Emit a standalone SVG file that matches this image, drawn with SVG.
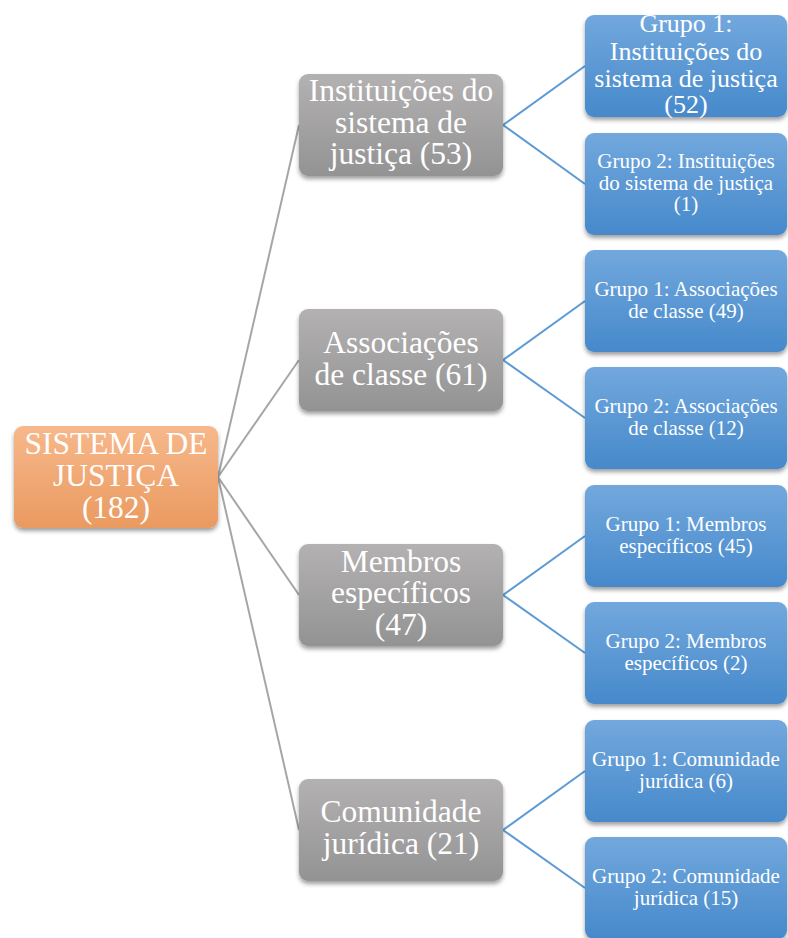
<svg xmlns="http://www.w3.org/2000/svg" width="788" height="938" viewBox="0 0 788 938">
<defs>
<linearGradient id="gOrange" x1="0" y1="0" x2="0" y2="1"><stop offset="0" stop-color="#F7B88B"/><stop offset="1" stop-color="#EA9A60"/></linearGradient>
<linearGradient id="gGray" x1="0" y1="0" x2="0" y2="1"><stop offset="0" stop-color="#B3B1B1"/><stop offset="1" stop-color="#949393"/></linearGradient>
<linearGradient id="gBlue" x1="0" y1="0" x2="0" y2="1"><stop offset="0" stop-color="#72A8DD"/><stop offset="1" stop-color="#4689CB"/></linearGradient>
<filter id="sh" x="-10%" y="-10%" width="125%" height="135%"><feDropShadow dx="0" dy="3" stdDeviation="2.2" flood-color="#000" flood-opacity="0.38"/></filter>
</defs>
<style>
text{font-family:"Liberation Serif","Times New Roman",serif;fill:#fff;text-anchor:middle}
.root rect{fill:url(#gOrange)}
.mid rect{fill:url(#gGray)}
.leaf rect{fill:url(#gBlue)}
rect{filter:url(#sh)}
.big{font-size:31.5px}
.m{font-size:26px}
.s{font-size:21px}
.cg line{stroke:#A6A6A6;stroke-width:2}
.cb line{stroke:#5B9BD5;stroke-width:2}
</style>
<g id="connectors">
<g class="cg">
<line x1="218" y1="477" x2="299" y2="125"/>
<line x1="218" y1="477" x2="299" y2="360"/>
<line x1="218" y1="477" x2="299" y2="595"/>
<line x1="218" y1="477" x2="299" y2="830"/>
</g>
<g class="cb">
<line x1="503" y1="125" x2="585" y2="66"/>
<line x1="503" y1="125" x2="585" y2="184"/>
<line x1="503" y1="360" x2="585" y2="301"/>
<line x1="503" y1="360" x2="585" y2="418"/>
<line x1="503" y1="595" x2="585" y2="536"/>
<line x1="503" y1="595" x2="585" y2="653"/>
<line x1="503" y1="830" x2="585" y2="771"/>
<line x1="503" y1="830" x2="585" y2="888"/>
</g>
</g>
<g id="root" class="root">
<rect x="14" y="426" width="204" height="102" rx="9"/>
<text class="big" x="116" y="454">SISTEMA DE</text>
<text class="big" x="116" y="486">JUSTIÇA</text>
<text class="big" x="116" y="518">(182)</text>
</g>
<g id="n1" class="mid">
<rect x="299" y="74" width="204" height="102" rx="9"/>
<text class="big" x="401" y="101">Instituições do</text>
<text class="big" x="401" y="133">sistema de</text>
<text class="big" x="401" y="164">justiça (53)</text>
</g>
<g id="n2" class="mid">
<rect x="299" y="309" width="204" height="102" rx="9"/>
<text class="big" x="401" y="353">Associações</text>
<text class="big" x="401" y="385">de classe (61)</text>
</g>
<g id="n3" class="mid">
<rect x="299" y="544" width="204" height="102" rx="9"/>
<text class="big" x="401" y="572">Membros</text>
<text class="big" x="401" y="603">específicos</text>
<text class="big" x="401" y="635">(47)</text>
</g>
<g id="n4" class="mid">
<rect x="299" y="779" width="204" height="102" rx="9"/>
<text class="big" x="401" y="822">Comunidade</text>
<text class="big" x="401" y="854">jurídica (21)</text>
</g>
<g id="l1" class="leaf">
<rect x="585" y="15" width="202" height="102" rx="9"/>
<text class="m" x="686" y="32">Grupo 1:</text>
<text class="m" x="686" y="60">Instituições do</text>
<text class="m" x="686" y="87">sistema de justiça</text>
<text class="m" x="686" y="113">(52)</text>
</g>
<g id="l2" class="leaf">
<rect x="585" y="133" width="202" height="102" rx="9"/>
<text class="s" x="686" y="168">Grupo 2: Instituições</text>
<text class="s" x="686" y="190">do sistema de justiça</text>
<text class="s" x="686" y="211">(1)</text>
</g>
<g id="l3" class="leaf">
<rect x="585" y="250" width="202" height="102" rx="9"/>
<text class="s" x="686" y="296">Grupo 1: Associações</text>
<text class="s" x="686" y="318">de classe (49)</text>
</g>
<g id="l4" class="leaf">
<rect x="585" y="367" width="202" height="102" rx="9"/>
<text class="s" x="686" y="413">Grupo 2: Associações</text>
<text class="s" x="686" y="435">de classe (12)</text>
</g>
<g id="l5" class="leaf">
<rect x="585" y="485" width="202" height="102" rx="9"/>
<text class="s" x="686" y="531">Grupo 1: Membros</text>
<text class="s" x="686" y="553">específicos (45)</text>
</g>
<g id="l6" class="leaf">
<rect x="585" y="602" width="202" height="102" rx="9"/>
<text class="s" x="686" y="648">Grupo 2: Membros</text>
<text class="s" x="686" y="670">específicos (2)</text>
</g>
<g id="l7" class="leaf">
<rect x="585" y="720" width="202" height="102" rx="9"/>
<text class="s" x="686" y="766">Grupo 1: Comunidade</text>
<text class="s" x="686" y="788">jurídica (6)</text>
</g>
<g id="l8" class="leaf">
<rect x="585" y="837" width="202" height="102" rx="9"/>
<text class="s" x="686" y="883">Grupo 2: Comunidade</text>
<text class="s" x="686" y="905">jurídica (15)</text>
</g>
</svg>
